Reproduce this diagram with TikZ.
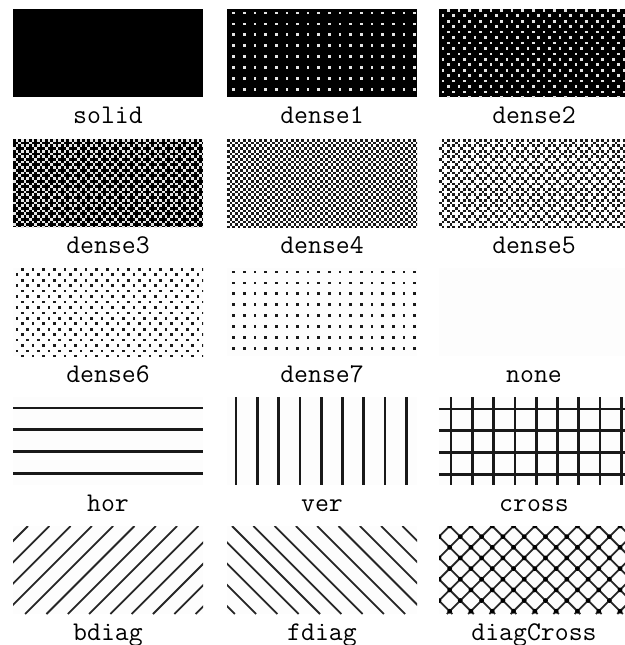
\documentclass[tikz,border=0pt]{standalone}
\usetikzlibrary{positioning}
\newcommand{\qpx}{2.66}
\newcommand{\qpy}{2.72}
\newcommand{\qstep}{21.3}
\newcommand{\lblfont}{\fontsize{27}{30}\selectfont\ttfamily}
\colorlet{paper}{black!0.7}
% fill a swatch with a 4x4 pixel tile: #1 node, #2 ground, #3 ink, #4 pixels col/row
\newcommand{\qtile}[4]{%
  \fill[#2] (#1.north west) rectangle (#1.south east);
  \begin{scope}
    \clip (#1.north west) rectangle (#1.south east);
    \begin{scope}[shift={(#1.north west)}]
      \foreach \tx in {0,...,17}
        \foreach \ty in {0,...,8}
          \foreach \cc/\rr in {#4}
            \fill[#3] ({(4*\tx+\cc)*\qpx},{(4*\ty+\rr)*\qpy}) rectangle ++(\qpx,\qpy);
    \end{scope}
  \end{scope}}

\begin{document}
\begin{tikzpicture}[x=1pt,y=-1pt,
  swatch/.style={inner sep=0pt, outer sep=0pt, minimum width=190pt, minimum height=88pt, anchor=north west},
  lbl/.style={font=\lblfont, inner sep=0pt, text height=16pt, text depth=5pt},
  qline/.style={line width=2.7pt, black!90},
  qdiag/.style={line width=1.8pt, black!85}]
\useasboundingbox (0,0) rectangle (624,645);
% swatches
\node[swatch, fill=black] (solid) at (13,9) {};
\node[swatch] (dense1) at (227,9) {};
\node[swatch] (dense2) at (439,9) {};
\node[swatch] (dense3) at (13,139) {};
\node[swatch] (dense4) at (227,139) {};
\node[swatch] (dense5) at (439,139) {};
\node[swatch] (dense6) at (13,268) {};
\node[swatch] (dense7) at (227,268) {};
\node[swatch, fill=paper] (none) at (439,268) {};
\node[swatch, fill=paper] (hor) at (13,397) {};
\node[swatch, fill=paper] (ver) at (227,397) {};
\node[swatch, fill=paper] (cross) at (439,397) {};
\node[swatch, fill=paper] (bdiag) at (13,526) {};
\node[swatch, fill=paper] (fdiag) at (227,526) {};
\node[swatch, fill=paper] (diagCross) at (439,526) {};
% labels
\foreach \s in {solid,dense1,dense2,dense3,dense4,dense5,dense6,dense7,none,hor,ver,cross,bdiag,fdiag,diagCross}
  \node[lbl, below=10pt of \s] (\s-lbl) {\s};
% dot patterns
\qtile{dense1}{black}{white!90!black}{2/1}
\qtile{dense2}{black}{white!90!black}{3/0,1/2}
\qtile{dense3}{black}{white!90!black}{1/0,3/0,2/1,1/2,3/2,0/3}
\qtile{dense4}{paper}{black!90}{0/0,2/0,1/1,3/1,0/2,2/2,1/3,3/3}
\qtile{dense5}{paper}{black!90}{1/0,3/0,2/1,1/2,3/2,0/3}
\qtile{dense6}{paper}{black!90}{3/0,1/2}
\qtile{dense7}{paper}{black!90}{2/1}
% line patterns
\begin{scope}[shift={(hor.north west)}]
  \clip (0,0) rectangle (190,88);
  \foreach \k in {0,...,3}
    \draw[qline] (0,{11+21.8*\k}) -- ++(190,0);
\end{scope}
\begin{scope}[shift={(ver.north west)}]
  \clip (0,0) rectangle (190,88);
  \foreach \k in {0,...,8}
    \draw[qline] ({9+\qstep*\k},0) -- ++(0,88);
\end{scope}
\begin{scope}[shift={(cross.north west)}]
  \clip (0,0) rectangle (190,88);
  \foreach \k in {0,...,8}
    \draw[qline] ({12+\qstep*\k},0) -- ++(0,88);
  \foreach \k in {0,...,3}
    \draw[qline] (0,{12+21.8*\k}) -- ++(190,0);
\end{scope}
\begin{scope}[shift={(bdiag.north west)}]
  \clip (0,0) rectangle (190,88);
  \foreach \k in {0,...,13}
    \draw[qdiag] ({15+\qstep*\k},0) -- ++(-88,88);
\end{scope}
\begin{scope}[shift={(fdiag.north west)}]
  \clip (0,0) rectangle (190,88);
  \foreach \k in {-5,...,8}
    \draw[qdiag] ({5+\qstep*\k},0) -- ++(88,88);
\end{scope}
\begin{scope}[shift={(diagCross.north west)}]
  \clip (0,0) rectangle (190,88);
  \foreach \k in {0,...,13}
    \draw[qdiag] ({10.65+\qstep*\k},0) -- ++(-88,88);
  \foreach \k in {-5,...,8}
    \draw[qdiag] ({10.65+\qstep*\k},0) -- ++(88,88);
  \foreach \i in {0,...,13}
    \foreach \j in {-5,...,8}
      \fill ({10.65*(1+\i+\j)},{10.65*(\i-\j)}) circle (2.4);
\end{scope}
\end{tikzpicture}
\end{document}
